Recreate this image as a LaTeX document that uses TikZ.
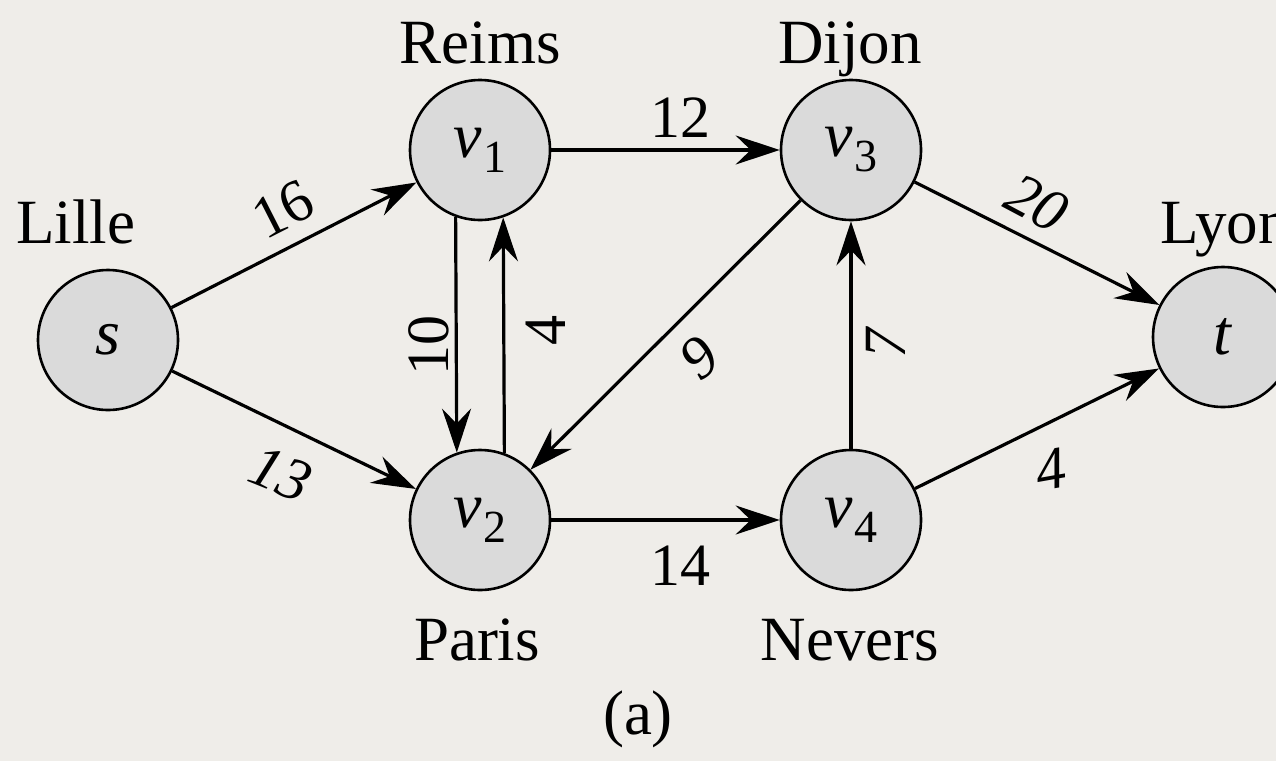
\documentclass[tikz,border=0pt]{standalone}
\usepackage{fontspec}
\setmainfont{Liberation Serif}
\usetikzlibrary{arrows.meta}
\definecolor{bg}{HTML}{EFEDE9}
\definecolor{nodefill}{HTML}{DADADA}
\newcommand\vsub[1]{\textit{v}\kern1pt\raisebox{-15pt}{\fontsize{46}{46}\selectfont #1}}
\begin{document}
\begin{tikzpicture}[x=1pt,y=-1pt,
  vert/.style={circle,draw,line width=2.6pt,fill=nodefill,minimum size=140pt,inner sep=0pt,font=\fontsize{64}{64}\selectfont},
  arr/.style={line width=3.2pt,-{Stealth[length=44pt,width=29pt,inset=15pt]}},
  city/.style={font=\fontsize{63}{64}\selectfont,anchor=base,inner sep=0pt},
  wt/.style={font=\fontsize{60}{60}\selectfont,inner sep=0pt},
  wti/.style={font=\fontsize{60}{60}\selectfont\itshape,inner sep=0pt}]
\fill[bg] (0,0) rectangle (1276,761);
\useasboundingbox (0,0) rectangle (1276,761);
\clip (0,0) rectangle (1276,761);
% vertices
\node[vert] (s) at (108,340) {\textit{s}};
\node[vert] (v1) at (480,150) {\vsub{1}};
\node[vert] (v3) at (851,150) {\vsub{3}};
\node[vert] (v2) at (480,520) {\vsub{2}};
\node[vert] (v4) at (851,520) {\vsub{4}};
\node[vert] (t) at (1223,337) {\textit{t}};
% city names
\node[city,anchor=base west] (lille) at (16,243) {Lille};
\node[city] (reims) at (480,63) {Reims};
\node[city] (dijon) at (850,63) {Dijon};
\node[city,anchor=base west] (lyon) at (1160,243) {Lyon};
\node[city] (paris) at (477,660) {Paris};
\node[city] (nevers) at (850,660) {Nevers};
\node[city] (cap) at (638,734) {(a)};
% edges
\draw[arr] (s) -- (v1);
\draw[arr] (s) -- (v2);
\draw[arr] (v1) -- (v3);
\draw[arr] (v1.250.8) -- (v2.109.2);
\draw[arr] (v2.70.8) -- (v1.289.2);
\draw[arr] (v3) -- (v2);
\draw[arr] (v2) -- (v4);
\draw[arr] (v4) -- (v3);
\draw[arr] (v3) -- (t);
\draw[arr] (v4) -- (t);
% weights
\node[wt,rotate=27] (w16) at (283,209) {16};
\node[wti,rotate=-22] (w13) at (281,474) {13};
\node[wt] (w12) at (680,118) {12};
\node[wt,rotate=90] (w10) at (429,345) {10};
\node[wt,rotate=90] (w4a) at (546,330) {4};
\node[wti,rotate=40] (w9) at (699,358) {9};
\node[wti,rotate=90] (w7) at (886,343) {7};
\node[wti,rotate=-28] (w20) at (1037,203) {20};
\node[wti,rotate=10] (w4b) at (1051,469) {4};
\node[wt] (w14) at (680,566) {14};
\end{tikzpicture}
\end{document}
